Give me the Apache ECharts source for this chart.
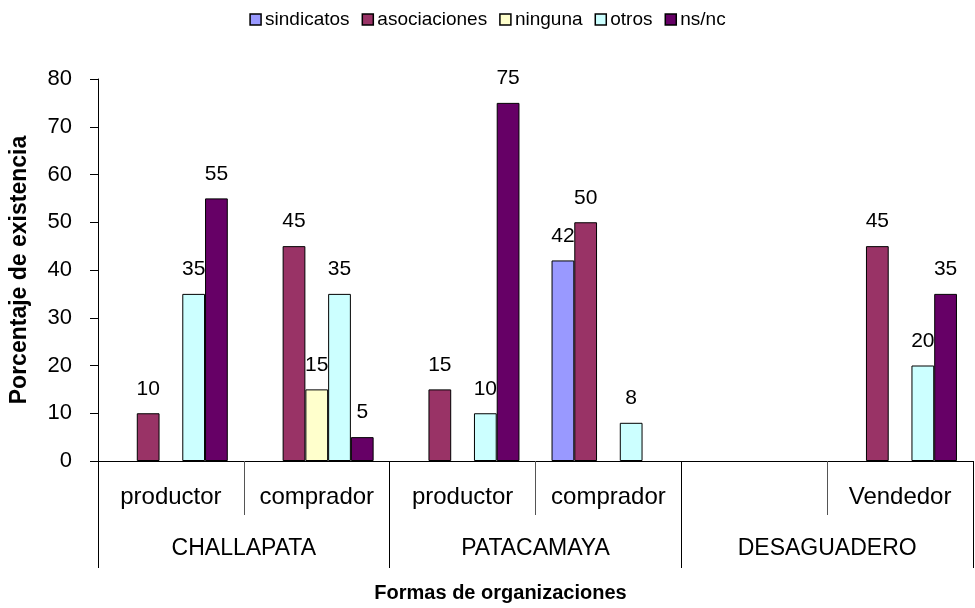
<!DOCTYPE html>
<html>
<head>
<meta charset="utf-8">
<script src="https://cdn.jsdelivr.net/npm/echarts@6/dist/echarts.min.js"></script>
<style>
  html, body { margin: 0; padding: 0; background: #fff; }
  #chart { width: 975px; height: 608px; }
</style>
</head>
<body>
<div id="chart"></div>
<script>
// --- DATA ---
const categories = ['productor', 'comprador', 'productor', 'comprador', '', 'Vendedor'];
const groups = ['CHALLAPATA', 'PATACAMAYA', 'DESAGUADERO'];
const seriesNames = ['sindicatos', 'asociaciones', 'ninguna', 'otros', 'ns/nc'];
const sindicatos = [null, null, null, 42, null, null];
const asociaciones = [10, 45, 15, 50, null, 45];
const ninguna = [null, 15, null, null, null, null];
const otros = [35, 35, 10, 8, null, 20];
const nsnc = [55, 5, 75, null, null, 35];
const yTicks = [0, 10, 20, 30, 40, 50, 60, 70, 80];

const colors = ['#9999FF', '#993366', '#FFFFCC', '#CCFFFF', '#660066'];
const FONT = 'Liberation Sans, Arial, sans-serif';

const chart = echarts.init(document.getElementById('chart'));

function makeBar(name, data, color) {
    return {
        name: name,
        type: 'bar',
        data: data,
        barGap: '0%',
        barCategoryGap: '22%',
        itemStyle: { color: color, borderColor: '#000', borderWidth: 1 },
        label: {
            show: true, position: 'top', distance: 14,
            color: '#000', fontFamily: FONT, fontSize: 21
        }
    };
}

const option = {
    animation: false,
    backgroundColor: '#fff',
    textStyle: { fontFamily: FONT },
    legend: {
        top: 5, left: 'center',
        itemWidth: 11, itemHeight: 11, itemGap: 12,
        icon: 'rect',
        itemStyle: { borderColor: '#000', borderWidth: 1.5 },
        textStyle: { fontSize: 19, color: '#000', fontFamily: FONT, padding: [0, 0, 0, -1] },
        data: seriesNames
    },
    grid: { left: 96, right: 2, top: 79, bottom: 147, containLabel: false },
    xAxis: [{
        type: 'category',
        data: categories,
        position: 'bottom',
        axisLine: { show: true, lineStyle: { color: '#000', width: 1 } },
        axisTick: { show: true, interval: 0, length: 54, lineStyle: { color: '#555' } },
        axisLabel: { interval: 0, margin: 24, fontSize: 24, color: '#000', fontFamily: FONT }
    }, {
        type: 'category',
        data: groups,
        position: 'bottom',
        axisLine: { show: false },
        axisTick: { show: true, interval: 0, length: 107, lineStyle: { color: '#000' } },
        axisLabel: { interval: 0, margin: 76, fontSize: 23, color: '#000', fontFamily: FONT },
        name: 'Formas de organizaciones',
        nameLocation: 'middle',
        nameGap: 122,
        nameTextStyle: { fontSize: 20, fontWeight: 'bold', color: '#000', fontFamily: FONT, padding: [0, 70, 0, 0] }
    }],
    yAxis: {
        type: 'value',
        min: yTicks[0], max: yTicks[yTicks.length - 1], interval: 10,
        splitLine: { show: false },
        axisLine: { show: true, lineStyle: { color: '#000' } },
        axisTick: { show: true, length: 8, lineStyle: { color: '#000' } },
        axisLabel: { fontSize: 22, color: '#000', margin: 26, fontFamily: FONT },
        name: 'Porcentaje de existencia',
        nameLocation: 'middle',
        nameGap: 67,
        nameTextStyle: { fontSize: 23, fontWeight: 'bold', color: '#000', fontFamily: FONT }
    },
    series: [
        makeBar(seriesNames[0], sindicatos, colors[0]),
        makeBar(seriesNames[1], asociaciones, colors[1]),
        makeBar(seriesNames[2], ninguna, colors[2]),
        makeBar(seriesNames[3], otros, colors[3]),
        makeBar(seriesNames[4], nsnc, colors[4])
    ]
};

chart.setOption(option);
</script>
</body>
</html>
